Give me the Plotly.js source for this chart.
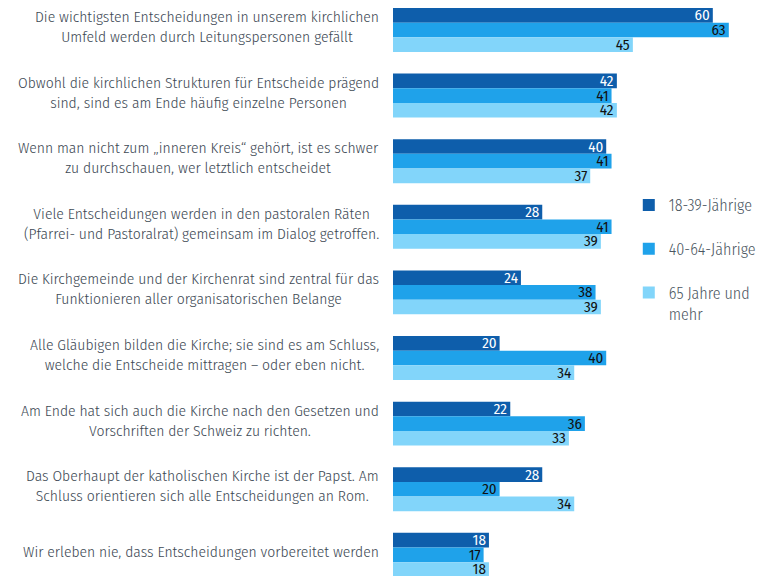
<!DOCTYPE html>
<html><head><meta charset="utf-8">
<script src="https://cdn.plot.ly/plotly-3.0.1.min.js"></script>
<style>html,body{margin:0;padding:0;background:#fff}</style>
</head><body><div id="chart" style="width:762px;height:576px"></div>
<script>
const categories = [
  "Die wichtigsten Entscheidungen in unserem kirchlichen<br>Umfeld werden durch Leitungspersonen gefällt",
  "Obwohl die kirchlichen Strukturen für Entscheide prägend<br>sind, sind es am Ende häufig einzelne Personen",
  "Wenn man nicht zum „inneren Kreis“ gehört, ist es schwer<br>zu durchschauen, wer letztlich entscheidet",
  "Viele Entscheidungen werden in den pastoralen Räten<br>(Pfarrei- und Pastoralrat) gemeinsam im Dialog getroffen.",
  "Die Kirchgemeinde und der Kirchenrat sind zentral für das<br>Funktionieren aller organisatorischen Belange",
  "Alle Gläubigen bilden die Kirche; sie sind es am Schluss,<br>welche die Entscheide mittragen – oder eben nicht.",
  "Am Ende hat sich auch die Kirche nach den Gesetzen und<br>Vorschriften der Schweiz zu richten.",
  "Das Oberhaupt der katholischen Kirche ist der Papst. Am<br>Schluss orientieren sich alle Entscheidungen an Rom.",
  "Wir erleben nie, dass Entscheidungen vorbereitet werden"
];
const seriesNames = ["18-39-Jährige", "40-64-Jährige", "65 Jahre und<br>mehr"];
const age18_39 = [60, 42, 40, 28, 24, 20, 22, 28, 18];
const age40_64 = [63, 41, 41, 41, 38, 40, 36, 20, 17];
const age65plus = [45, 42, 37, 39, 39, 34, 33, 34, 18];

const FONT = "Fira Sans Condensed, Liberation Sans Narrow, Roboto, sans-serif";
const colors = ["#0e5eab", "#1fa2ea", "#82d5fa"];
const textColors = ["#ffffff", "#111111", "#111111"];
const allSeries = [age18_39, age40_64, age65plus];

const idx = categories.map((c, i) => i);
const traces = allSeries.map((vals, k) => ({
  type: "bar", orientation: "h",
  name: seriesNames[k], legendgroup: "g" + k,
  x: vals, y: idx,
  marker: {color: colors[k]},
  text: vals.map(String), textposition: "inside", insidetextanchor: "end",
  textangle: 0, constraintext: "none",
  textfont: {family: FONT, size: 15, color: textColors[k]},
  hoverinfo: "none"
}));

const annotations = categories.map((c, i) => ({
  xref: "paper", yref: "y", x: 0, y: i, xanchor: "right", yanchor: "middle",
  xshift: -12, yshift: 3, align: "center", showarrow: false, text: c,
  font: {family: FONT, size: 15.5, weight: 300, color: "#3e4a55"}
}));

const layout = {
  width: 762, height: 576,
  margin: {l: 393, r: 22, t: 0, b: 0, pad: 0, autoexpand: false},
  paper_bgcolor: "#ffffff", plot_bgcolor: "#ffffff",
  barmode: "group", bargap: 0.33, bargroupgap: 0,
  xaxis: {range: [0, 65.1], visible: false, fixedrange: true},
  yaxis: {range: [8.323, -0.457], showticklabels: false, showgrid: false, zeroline: false, showline: false, ticks: ""},
  showlegend: true,
  legend: {
    x: 0.6795, xanchor: "left", y: 1 - 188/576, yanchor: "top",
    tracegroupgap: 20, valign: "top", traceorder: "grouped",
    font: {family: FONT, size: 16, weight: 300, color: "#4a5560"},
    itemwidth: 30, bgcolor: "rgba(0,0,0,0)"
  },
  annotations: annotations
};

Plotly.newPlot("chart", traces, layout, {staticPlot: true, displayModeBar: false});
</script>
</body></html>
